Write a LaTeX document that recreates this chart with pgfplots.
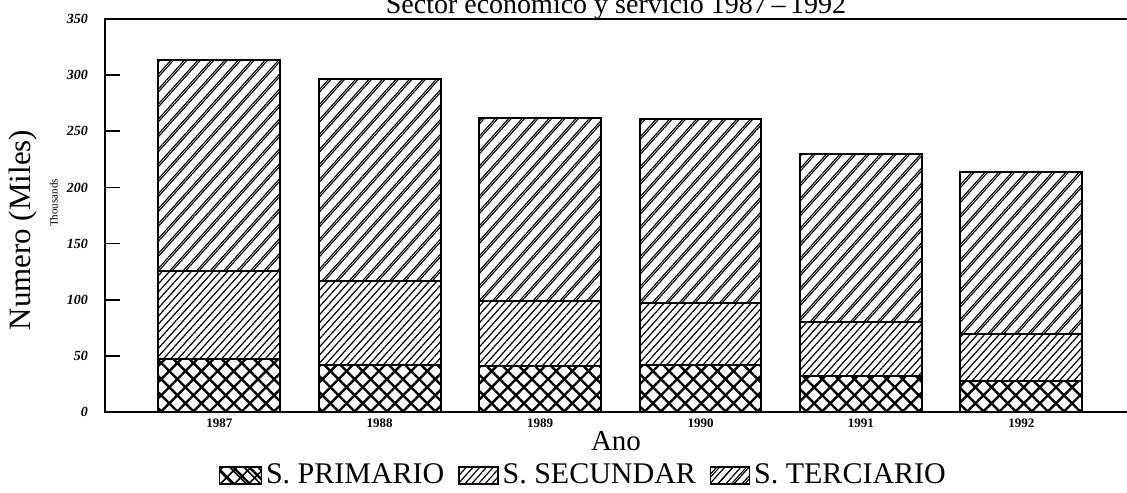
\documentclass[border=0pt]{standalone}
\usepackage{fontspec}
\setmainfont{Liberation Serif}
\usepackage{pgfplots}
\pgfplotsset{compat=1.18}
\usetikzlibrary{patterns.meta}

\tikzset{
  primpat/.style={pattern={Lines[angle=45,distance=5.7pt,line width=1.2pt]},
                  postaction={pattern={Lines[angle=-45,distance=5.7pt,line width=1.2pt]}}},
  secpat/.style={pattern={Lines[angle=48,distance=2.7pt,line width=0.6pt]}},
  terpat/.style={pattern={Lines[angle=48,distance=5pt,line width=0.55pt]},
                 postaction={pattern={Lines[angle=48,distance=5pt,line width=0.55pt,yshift=1.4pt]}}},
}

\begin{document}
\begin{tikzpicture}
\begin{axis}[
  scale only axis,
  width=511pt, height=196.5pt,
  ybar stacked,
  bar width=0.76,
  xmin=-0.7126, xmax=5.659,
  ymin=0, ymax=350,
  clip=false,
  axis line style={draw=none},
  xtick={0,1,2,3,4,5},
  xticklabels={1987,1988,1989,1990,1991,1992},
  xtick style={draw=none},
  ytick={0,50,100,150,200,250,300,350},
  ytick pos=left,
  tick align=inside,
  major tick length=7.5pt,
  ytick style={line width=0.8pt, black},
  /pgf/number format/assume math mode=true,
  yticklabel style={font=\fontsize{7}{8}\selectfont\bfseries\itshape, xshift=-5pt},
  xticklabel style={font=\fontsize{6.5}{7}\selectfont\bfseries, yshift=0pt},
  legend style={at={(axis description cs:0.1106,-0.1616)}, anchor=west, draw=none,
    fill=none, inner sep=0pt,
    font=\fontsize{15}{17}\selectfont,
    /tikz/every even column/.append style={column sep=5pt}},
  legend columns=3,
]
\addplot[draw=black, line width=1pt, fill=white, primpat,
  legend image code/.code={\draw[draw=black,line width=0.6pt,
     pattern={Lines[angle=45,distance=5pt,line width=0.8pt]},
     postaction={pattern={Lines[angle=-45,distance=5pt,line width=0.8pt]}}]
     (0pt,-4.25pt) rectangle (21pt,4.25pt);}]
  coordinates {(0,47) (1,42) (2,41) (3,41.7) (4,32) (5,28)};
\addplot[draw=black, line width=1pt, fill=white, secpat,
  legend image code/.code={\draw[draw=black,line width=0.6pt,
     pattern={Lines[angle=48,distance=2.5pt,line width=0.6pt]}]
     (0pt,-4.25pt) rectangle (19.5pt,4.25pt);}]
  coordinates {(0,79) (1,74.3) (2,57.5) (3,55.3) (4,48.6) (5,41.4)};
\addplot[draw=black, line width=1pt, fill=white, terpat,
  legend image code/.code={\draw[draw=black,line width=0.6pt,
     pattern={Lines[angle=48,distance=3pt,line width=0.6pt]}]
     (0pt,-4.25pt) rectangle (19.5pt,4.25pt);}]
  coordinates {(0,187.4) (1,180.1) (2,163.4) (3,164.3) (4,148.9) (5,144.6)};
\legend{S. PRIMARIO, S. SECUNDAR, S. TERCIARIO}
\draw[line width=1pt] (rel axis cs:1,0) -- (rel axis cs:0,0) -- (rel axis cs:0,1) -- (rel axis cs:1,1);
\node[anchor=base, font=\fontsize{14}{16}\selectfont, yshift=3pt] at (axis description cs:0.5,1) {Sector economico y servicio 1987\,--\,1992};
\node[rotate=90, font=\fontsize{15.5}{17}\selectfont] at (axis description cs:-0.0802,0.463) {Numero (Miles)};
\node[rotate=90, font=\fontsize{5.5}{6}\selectfont] at (axis description cs:-0.05,0.532) {Thousands};
\node[font=\fontsize{14.5}{16}\selectfont] at (axis description cs:0.5,-0.075) {Ano};
\end{axis}
\pgfresetboundingbox
\useasboundingbox (-52.5pt,-40pt) rectangle (511pt,206pt);
\end{tikzpicture}
\end{document}
